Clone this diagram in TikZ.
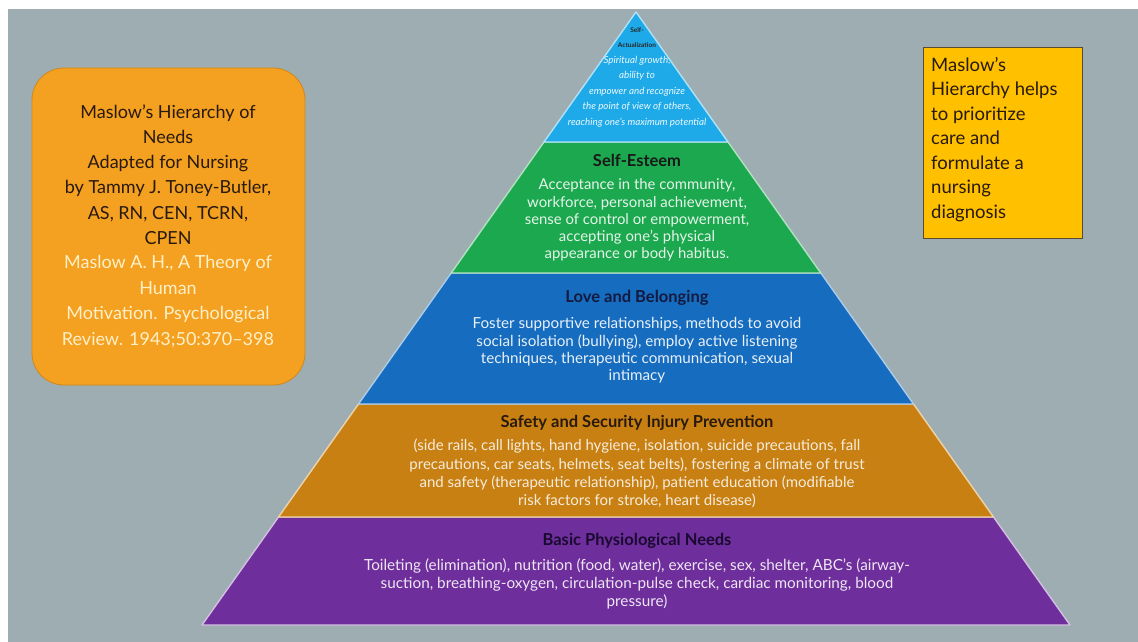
\documentclass[tikz,border=0pt]{standalone}
\usepackage{fontspec}
\setmainfont{Lato}
\usetikzlibrary{calc}

\definecolor{bg}{RGB}{158,173,177}
\definecolor{topblue}{RGB}{30,170,232}
\definecolor{esteem}{RGB}{28,168,78}
\definecolor{love}{RGB}{22,108,190}
\definecolor{safety}{RGB}{200,128,18}
\definecolor{basic}{RGB}{110,46,156}
\definecolor{boxorange}{RGB}{244,160,32}
\definecolor{boxyellow}{RGB}{255,192,0}
\definecolor{darktext}{RGB}{40,26,14}
\definecolor{citetext}{RGB}{255,240,200}

\tikzset{
  layer/.style={line width=1.4pt, line join=round},
  ttl/.style={font={\fontsize{16.5}{19}\selectfont\bfseries}, inner sep=0pt},
  body/.style={align=center, inner sep=0pt},
}

\begin{document}
\begin{tikzpicture}[x=1pt,y=-1pt]
\useasboundingbox (0,0) rectangle (1138,642);
\fill[white] (0,0) rectangle (1138,642);
\fill[bg] (8,9) rectangle (1138,642);

% pyramid corners
\coordinate (apex) at (636,12);
\coordinate (bl) at (202,625);
\coordinate (br) at (1070,625);

% layers, bottom to top
\filldraw[layer, fill=basic, draw=basic!30!white]
  (bl) -- (278.5,517) -- (993.5,517) -- (br) -- cycle;
\filldraw[layer, fill=safety, draw=safety!35!white]
  (278.5,517) -- (358.5,404) -- (913.5,404) -- (993.5,517) -- cycle;
\filldraw[layer, fill=love, draw=love!35!white]
  (358.5,404) -- (451.2,273) -- (820.8,273) -- (913.5,404) -- cycle;
\filldraw[layer, fill=esteem, draw=esteem!35!white]
  (451.2,273) -- (544,142) -- (728,142) -- (820.8,273) -- cycle;
\filldraw[layer, fill=topblue, draw=topblue!35!white]
  (544,142) -- (apex) -- (728,142) -- cycle;

% top layer
\node[body, font={\fontsize{9.8}{15.5}\selectfont}] (selfact) at (637,77)
  {{\fontsize{6.5}{15.5}\selectfont\bfseries\color{black!85} Self-}\\
   {\fontsize{6.5}{15.5}\selectfont\bfseries\color{black!85} Actualization}\\
   {\color{white!92!topblue}\itshape Spiritual growth,}\\
   {\color{white!92!topblue}\itshape ability to}\\
   {\color{white!92!topblue}\itshape empower and recognize}\\
   {\color{white!92!topblue}\itshape the point of view of others,}\\
   {\color{white!92!topblue}\itshape reaching one’s maximum potential}};

% self-esteem
\node[ttl, text=black!90] (esteemT) at (637,160) {Self-Esteem};
\node[body, text=white!88!esteem, font={\fontsize{14.9}{17.2}\selectfont}] (esteemB) at (637,220)
  {Acceptance in the community,\\ workforce, personal achievement,\\ sense of control or empowerment,\\ accepting one’s physical\\ appearance or body habitus.};

% love and belonging
\node[ttl, text={rgb,255:red,20;green,26;blue,64}] (loveT) at (637,298) {Love and Belonging};
\node[body, text=white!90!love, font={\fontsize{15.2}{17.2}\selectfont}] (loveB) at (637,350.5)
  {Foster supportive relationships, methods to avoid\\ social isolation (bullying), employ active listening\\ techniques, therapeutic communication, sexual\\ intimacy};

% safety and security
\node[ttl, text=darktext] (safetyT) at (637,423) {Safety and Security Injury Prevention};
\node[body, text=white!85!safety, font={\fontsize{15}{18.3}\selectfont}] (safetyB) at (637,473.5)
  {(side rails, call lights, hand hygiene, isolation, suicide precautions, fall\\ precautions, car seats, helmets, seat belts), fostering a climate of trust\\ and safety (therapeutic relationship), patient education (modifiable\\ risk factors for stroke, heart disease)};

% basic physiological needs
\node[ttl, text={rgb,255:red,26;green,10;blue,48}] (basicT) at (637,541) {Basic Physiological Needs};
\node[body, text=white!88!basic, font={\fontsize{15.3}{18}\selectfont}] (basicB) at (637,584)
  {Toileting (elimination), nutrition (food, water), exercise, sex, shelter, ABC’s (airway-\\ suction, breathing-oxygen, circulation-pulse check, cardiac monitoring, blood\\ pressure)};

% left title box
\filldraw[fill=boxorange, draw=boxorange!85!black, line width=0.8pt, rounded corners=32pt]
  (32,68) rectangle (305,385);
\node[body, text=darktext, font={\fontsize{18}{25.2}\selectfont}] (credits) at (168,174.5)
  {Maslow’s Hierarchy of\\ Needs\\ Adapted for Nursing\\ by Tammy J. Toney-Butler,\\ AS, RN, CEN, TCRN,\\ CPEN};
\node[body, text=citetext, font={\fontsize{18}{25.7}\selectfont}] (citation) at (168,301.5)
  {Maslow A. H., A Theory of\\ Human\\ Motivation. Psychological\\ Review. 1943;50:370–398};

% right note box
\filldraw[fill=boxyellow, draw={rgb,255:red,90;green,74;blue,48}, line width=1pt]
  (923,48) rectangle (1082,238);
\node[align=left, anchor=west, inner sep=0pt, text=darktext, font={\fontsize{18.5}{24.5}\selectfont}] (note) at (931,139.5)
  {Maslow’s\\ Hierarchy helps\\ to prioritize\\ care and\\ formulate a\\ nursing\\ diagnosis};
\end{tikzpicture}
\end{document}
